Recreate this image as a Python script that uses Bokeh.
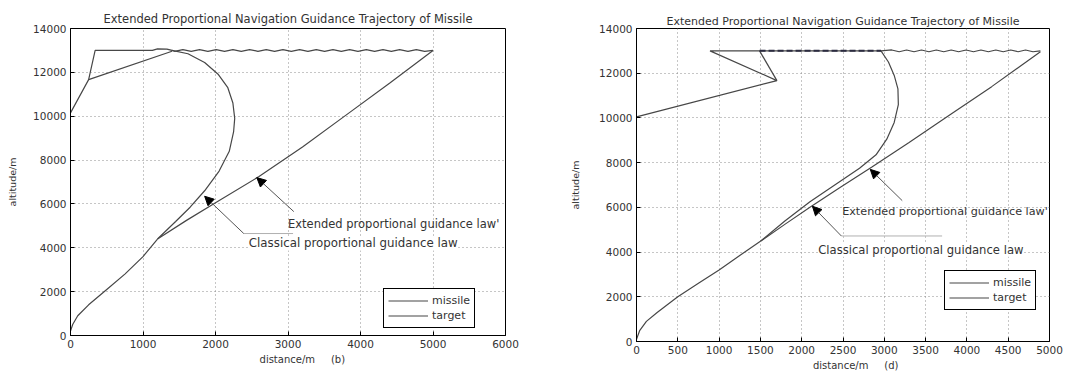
from bokeh.plotting import figure
from bokeh.layouts import row
from bokeh.models import Range1d, FixedTicker, Label, Arrow, NormalHead, Legend, LegendItem
from bokeh.embed import file_html
from bokeh.resources import INLINE

FONT = "DejaVu Sans"
LINE = "#474747"
TXT = "#333333"
NB = "\u00a0"

# ---------------- common ----------------
title_text = "Extended Proportional Navigation Guidance Trajectory of Missile"
y_ticks = [0, 2000, 4000, 6000, 8000, 10000, 12000, 14000]

# ---------------- panel (b) ----------------
b_x_ticks = [0, 1000, 2000, 3000, 4000, 5000, 6000]
b_launch_x = [0, 30, 100, 250, 500, 750, 1000, 1200]
b_launch_y = [200, 500, 900, 1400, 2100, 2800, 3600, 4400]
b_classical_x = [1200, 1450, 1650, 1850, 2050, 2190, 2250, 2265, 2240, 2170, 2040, 1850, 1620, 1400]
b_classical_y = [4400, 5200, 5850, 6600, 7500, 8400, 9300, 9900, 10600, 11300, 11900, 12450, 12850, 13000]
b_extended_x = [1200, 1600, 2000, 2600, 3200, 3800, 4400, 5000]
b_extended_y = [4400, 5250, 6050, 7250, 8600, 10050, 11500, 13000]
b_target_x = [5000, 4885, 4770, 4655, 4540, 4425, 4310, 4195, 4080, 3965, 3850, 3735, 3620, 3505,
              3390, 3275, 3160, 3045, 2930, 2815, 2700, 2585, 2470, 2355, 2240, 2125, 2010, 1895,
              1780, 1665, 1550, 1435, 1400, 1330, 1200, 1130, 340, 250, 0]
b_target_y = [13000, 12960, 13040, 12960, 13040, 12960, 13040, 12960, 13040, 12960, 13040, 12960, 13040, 12960,
              13040, 12960, 13040, 12960, 13040, 12960, 13040, 12960, 13040, 12960, 13040, 12960, 13040, 12960,
              13040, 12960, 13040, 12960, 13000, 13060, 13070, 13000, 13000, 11670, 10150]
b_branch_x = [250, 1400]
b_branch_y = [11670, 12960]
b_ext_arrow = [3080, 5650, 2570, 7200]
b_cls_arrow = [2390, 4650, 1850, 6350]
b_cls_hline_x = [2390, 3070]
b_cls_hline_y = [4650, 4650]
b_ext_text = [3000, 5100]
b_cls_text = [2460, 4200]

# ---------------- panel (d) ----------------
d_x_ticks = [0, 500, 1000, 1500, 2000, 2500, 3000, 3500, 4000, 4500, 5000]
d_launch_x = [0, 40, 120, 250, 500, 750, 1000, 1250, 1500]
d_launch_y = [100, 500, 900, 1300, 2000, 2600, 3200, 3850, 4480]
d_classical_x = [1500, 1800, 2100, 2400, 2700, 2900, 3030, 3120, 3170, 3165, 3120, 3050, 2960]
d_classical_y = [4480, 5400, 6250, 7000, 7750, 8350, 9050, 9800, 10600, 11300, 11900, 12500, 13000]
d_extended_x = [1500, 1800, 2100, 2450, 2850, 3300, 3800, 4300, 4890]
d_extended_y = [4480, 5250, 6000, 6850, 7800, 8900, 10150, 11400, 12960]
d_target_x = [4890, 4800, 4710, 4620, 4530, 4440, 4350, 4260, 4170, 4080, 3990, 3900, 3810, 3720,
              3630, 3540, 3450, 3360, 3270, 3180, 3090, 2960, 890, 1700, 0]
d_target_y = [13000, 12960, 13040, 12960, 13040, 12960, 13040, 12960, 13040, 12960, 13040, 12960, 13040, 12960,
              13040, 12960, 13040, 12960, 13040, 12960, 13040, 13000, 13000, 11670, 10050]
d_branch_x = [1700, 1490]
d_branch_y = [11670, 13000]
d_overlap_x = [1490, 2960]
d_overlap_y = [13000, 13000]
d_ext_arrow = [3217, 6300, 2830, 7700]
d_cls_arrow = [2480, 4720, 2130, 6050]
d_cls_hline_x = [2480, 3700]
d_cls_hline_y = [4720, 4720]
d_ext_text = [2490, 5800]
d_cls_text = [2200, 4100]


def base_fig(fw, fh, xmax, xticks, bl, br, bt, bb, title_size, title_standoff):
    p = figure(frame_width=fw, frame_height=fh, output_backend="svg", toolbar_location=None,
               x_range=Range1d(0, xmax), y_range=Range1d(0, 14000),
               min_border_left=bl, min_border_right=br, min_border_top=bt, min_border_bottom=bb,
               title=title_text)
    p.title.align = "center"
    p.title.text_font = FONT
    p.title.text_font_size = title_size
    p.title.text_font_style = "normal"
    p.title.text_color = TXT
    p.title.standoff = title_standoff
    p.title.offset = 0
    p.outline_line_color = "black"
    p.outline_line_width = 1
    p.outline_line_alpha = 1
    p.background_fill_color = "white"
    p.border_fill_color = "white"
    p.xaxis.ticker = FixedTicker(ticks=xticks)
    p.yaxis.ticker = FixedTicker(ticks=y_ticks)
    for ax in (p.xaxis[0], p.yaxis[0]):
        ax.major_tick_in = 4
        ax.major_tick_out = 0
        ax.minor_tick_line_color = None
        ax.axis_line_color = "black"
        ax.major_tick_line_color = "black"
        ax.major_label_text_font = FONT
        ax.major_label_text_font_size = "10.5px"
        ax.major_label_text_color = TXT
        ax.major_label_standoff = 4
        ax.axis_label_text_font = FONT
        ax.axis_label_text_font_size = "10px"
        ax.axis_label_text_font_style = "normal"
        ax.axis_label_text_color = TXT
    p.yaxis.axis_label_text_font_size = "9.5px"
    p.xaxis.axis_label_standoff = 3
    p.xgrid.grid_line_color = "#8c8c8c"
    p.ygrid.grid_line_color = "#8c8c8c"
    p.xgrid.grid_line_dash = "1 3"
    p.ygrid.grid_line_dash = "1 3"
    p.xgrid.grid_line_width = 1
    p.ygrid.grid_line_width = 1
    p.yaxis.axis_label = "altitude/m"
    return p


def panel(p, launch_x, launch_y, cls_x, cls_y, ext_x, ext_y, tgt_x, tgt_y, br_x, br_y,
          ext_arrow, cls_arrow, hl_x, hl_y, ext_text, cls_text, ext_size, cls_size, legend_loc):
    r_m = p.line(launch_x, launch_y, line_color=LINE, line_width=1.2)
    p.line(cls_x, cls_y, line_color=LINE, line_width=1.2)
    p.line(ext_x, ext_y, line_color=LINE, line_width=1.2)
    r_t = p.line(tgt_x, tgt_y, line_color=LINE, line_width=1.2)
    p.line(br_x, br_y, line_color=LINE, line_width=1.2)
    p.line(hl_x, hl_y, line_color="#b0b0b0", line_width=1)
    for a in (ext_arrow, cls_arrow):
        p.add_layout(Arrow(end=NormalHead(size=9, fill_color="black", line_color="black"),
                           x_start=a[0], y_start=a[1], x_end=a[2], y_end=a[3],
                           line_color="#555555", line_width=1))
    p.add_layout(Label(x=ext_text[0], y=ext_text[1], text="Extended proportional guidance law'",
                       text_font=FONT, text_font_size=ext_size, text_color=TXT,
                       text_baseline="middle"))
    p.add_layout(Label(x=cls_text[0], y=cls_text[1], text="Classical proportional guidance law",
                       text_font=FONT, text_font_size=cls_size, text_color=TXT,
                       text_baseline="middle", background_fill_color="white"))
    leg = Legend(items=[LegendItem(label="missile", renderers=[r_m]),
                        LegendItem(label="target", renderers=[r_t])],
                 location=legend_loc)
    leg.label_text_font = FONT
    leg.label_text_font_size = "11px"
    leg.label_text_color = TXT
    leg.glyph_width = 40
    leg.glyph_height = 15
    leg.label_height = 15
    leg.label_standoff = 4
    leg.padding = 4
    leg.spacing = 0
    leg.margin = 0
    leg.border_line_color = "black"
    leg.border_line_width = 1
    leg.border_line_alpha = 1
    leg.background_fill_alpha = 1
    p.add_layout(leg)


p1 = base_fig(435, 307, 6000, b_x_ticks, 70, 35, 28, 41, "11.5px", 5)
p1.yaxis.axis_label_standoff = 12
p1.xaxis.axis_label = NB * 9 + "distance/m" + NB * 5 + "(b)"
panel(p1, b_launch_x, b_launch_y, b_classical_x, b_classical_y, b_extended_x, b_extended_y,
      b_target_x, b_target_y, b_branch_x, b_branch_y, b_ext_arrow, b_cls_arrow,
      b_cls_hline_x, b_cls_hline_y, b_ext_text, b_cls_text, "11.5px", "11.8px", (313, 7))

p2 = base_fig(413, 313, 5000, d_x_ticks, 96, 31, 28, 33, "11px", 2)
p2.yaxis.axis_label_standoff = 15
p2.xaxis.axis_label = NB * 8 + "distance/m" + NB * 5 + "(d)"
panel(p2, d_launch_x, d_launch_y, d_classical_x, d_classical_y, d_extended_x, d_extended_y,
      d_target_x, d_target_y, d_branch_x, d_branch_y, d_ext_arrow, d_cls_arrow,
      d_cls_hline_x, d_cls_hline_y, d_ext_text, d_cls_text, "11.2px", "11.6px", (308, 31))
p2.line(d_overlap_x, d_overlap_y, line_color="#2b2b40", line_width=2, line_dash="6 3")

layout = row(p1, p2, spacing=0)
open("out.html", "w").write(file_html(layout, INLINE))
